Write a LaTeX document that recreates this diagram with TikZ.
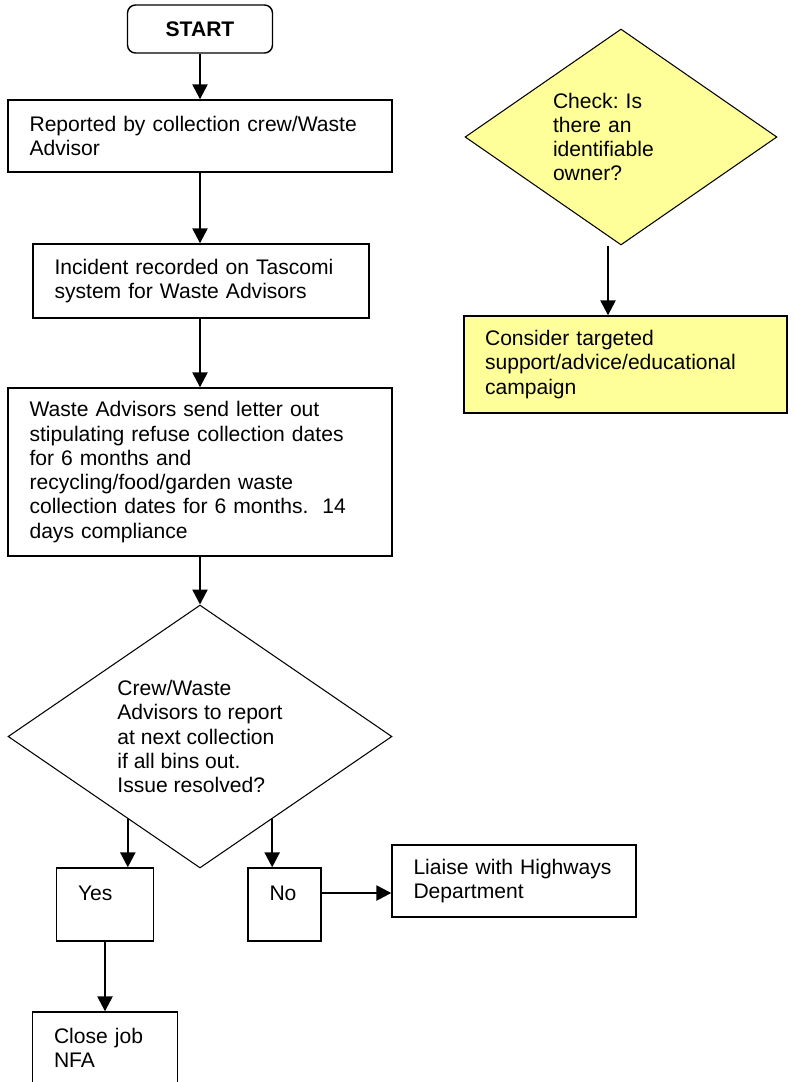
\documentclass[tikz,border=0pt]{standalone}
\usepackage{fontspec}
\setmainfont{Liberation Sans}
\frenchspacing
\usetikzlibrary{shapes.geometric,arrows.meta,calc}
\definecolor{noteyellow}{RGB}{255,255,153}

\begin{document}
\begin{tikzpicture}[x=0.02cm, y=-0.02cm,
	every node/.style={font=\fontsize{12}{13.8}\selectfont},
	stepbox/.style={draw, line width=0.8pt, align=left, inner xsep=0.43cm},
	decision/.style={draw, diamond, line width=0.6pt, align=left, inner sep=0pt},
	arr/.style={line width=1.4pt, -{Triangle[length=0.3cm,width=0.3cm]}}]
	\useasboundingbox (0,0) rectangle (792,1082);
	% main column
	\node[draw, rounded corners=0.16cm, line width=0.8pt, minimum width=2.9cm, minimum height=0.96cm, font=\fontsize{12}{13.8}\selectfont\bfseries] (start) at (200,29) {START};
	\node[stepbox, minimum width=7.68cm, minimum height=1.44cm, text width=6.82cm] (report) at (200,136) {Reported by collection crew/Waste\\Advisor};
	\node[stepbox, minimum width=6.72cm, minimum height=1.48cm, text width=5.86cm] (record) at (201,281) {Incident recorded on Tascomi\\system for Waste Advisors};
	\node[stepbox, minimum width=7.68cm, minimum height=3.36cm, text width=6.82cm] (letter) at (200,472) {Waste Advisors send letter out\\stipulating refuse collection dates\\for 6 months and\\recycling/food/garden waste\\collection dates for 6 months.\ \ 14\\days compliance};
	\node[decision, minimum width=7.68cm, minimum height=5.26cm, shape aspect=1.46] (resolved) at (200,736.5) {Crew/Waste\\Advisors to report\\at next collection\\if all bins out.\\Issue resolved?};
	\node[stepbox, minimum width=1.94cm, minimum height=1.46cm, text width=1.08cm, text height=0.3cm, text depth=0.46cm] (yes) at (105,904.5) {Yes};
	\node[stepbox, minimum width=1.46cm, minimum height=1.46cm, text width=0.6cm, text height=0.3cm, text depth=0.46cm] (no) at (284.5,904.5) {No};
	\node[stepbox, minimum width=4.88cm, minimum height=1.44cm, text width=4.02cm] (liaise) at (514,881) {Liaise with Highways\\Department};
	\node[stepbox, minimum width=2.9cm, minimum height=1.44cm, text width=2.04cm] (close) at (105,1048) {Close job\\NFA};
	% side check
	\node[decision, fill=noteyellow, minimum width=6.24cm, minimum height=4.32cm, shape aspect=1.44, text width=2.72cm] (check) at (621,137) {Check: Is\\there an\\identifiable\\owner?};
	\node[stepbox, fill=noteyellow, inner xsep=0.42cm, minimum width=6.46cm, minimum height=1.94cm, text width=5.62cm] (advice) at (625.5,364.5) {Consider targeted\\support/advice/educational\\campaign};

	\draw[arr] (start) -- (report);
	\draw[arr] (report.south) -- (report.south |- record.north);
	\draw[arr] (letter.north |- record.south) -- (letter.north);
	\draw[arr] (letter.south) -- (resolved.north);
	\coordinate (yesfrom) at ($(resolved.west)!0.625!(resolved.south)$);
	\coordinate (nofrom) at ($(resolved.south)!0.375!(resolved.east)$);
	\draw[arr] (yesfrom) -- (yesfrom |- yes.north);
	\draw[arr] (nofrom) -- (nofrom |- no.north);
	\draw[arr] (yes) -- (close);
	\draw[arr] ([yshift=0.23cm]no.east) -- ([yshift=0.23cm]no.east -| liaise.west);
	\draw[arr] ([xshift=-0.26cm]check.south) -- ([xshift=-0.26cm]check.south |- advice.north);
\end{tikzpicture}
\end{document}
